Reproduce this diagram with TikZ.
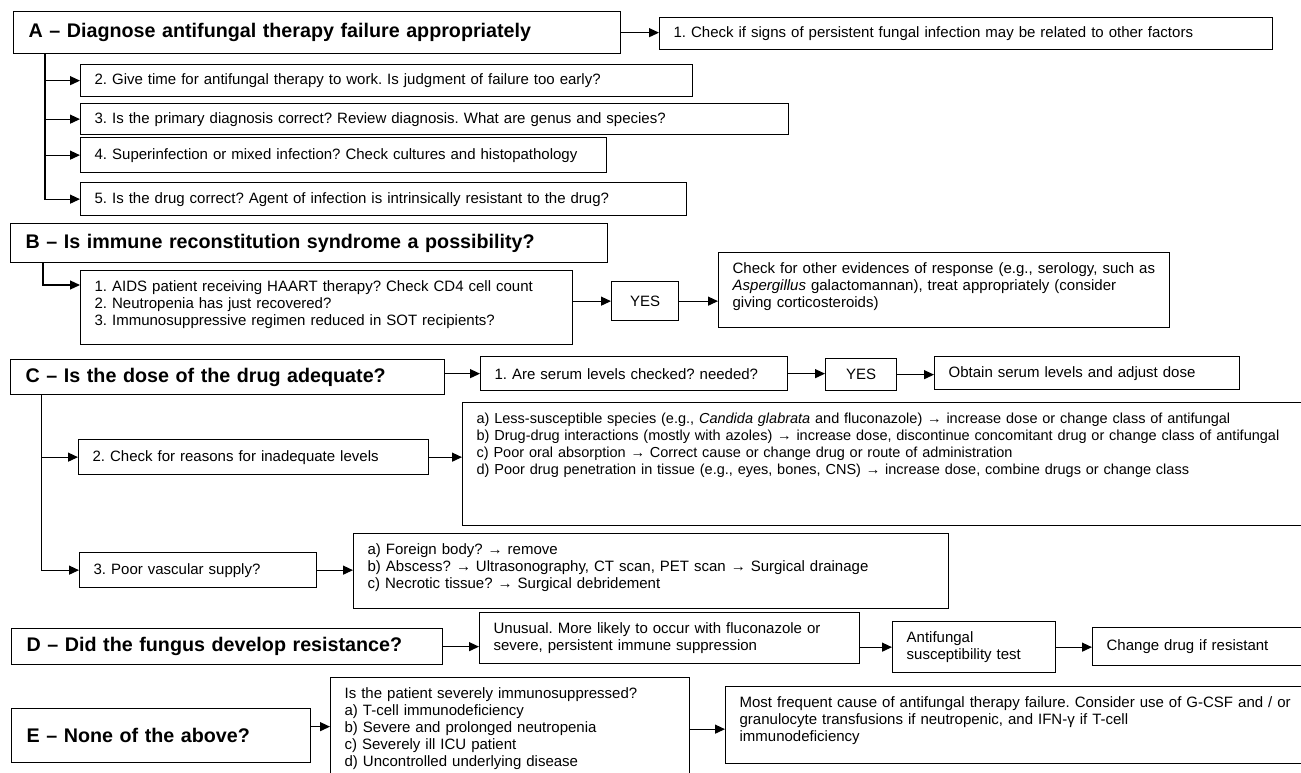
\documentclass[tikz,border=0pt]{standalone}
\usepackage{fontspec}
\setmainfont{Liberation Sans}
\usetikzlibrary{arrows.meta, positioning, calc}
\frenchspacing

\begin{document}
\begin{tikzpicture}[
  x=1pt, y=-1pt,
  font=\fontsize{15}{17}\selectfont,
  box/.style = {draw, line width=1.3pt, anchor=north west, align=left,
                inner xsep=14pt, inner ysep=0pt},
  topbox/.style = {box, inner ysep=9pt, text height=12pt, text depth=#1},
  yesbox/.style = {draw, line width=1.3pt, anchor=north west, align=center,
                   inner sep=0pt},
  headbox/.style = {box, inner xsep=15pt,
                    font=\fontsize{19.7}{24}\selectfont\bfseries},
  arrow/.style = {-{Triangle[length=10pt, width=9pt]}, line width=1.2pt}
]
\useasboundingbox (0,0) rectangle (1301,773);

% A: diagnose failure
\node[headbox, text width=577pt, minimum height=42pt] (diag) at (13,11) {A – Diagnose antifungal therapy failure appropriately};
\node[box, text width=585pt, minimum height=32pt] (other) at (659,17) {1. Check if signs of persistent fungal infection may be related to other factors};
\node[box, text width=584pt, minimum height=32pt] (time) at (80,64) {2. Give time for antifungal therapy to work. Is judgment of failure too early?};
\node[box, text width=680pt, minimum height=31pt] (primary) at (80,103) {3. Is the primary diagnosis correct? Review diagnosis. What are genus and species?};
\node[box, text width=498pt, minimum height=35pt] (superinf) at (80,137) {4. Superinfection or mixed infection? Check cultures and histopathology};
\node[box, text width=578pt, minimum height=33pt] (drugok) at (80,182) {5. Is the drug correct? Agent of infection is intrinsically resistant to the drug?};

% B: immune reconstitution
\node[headbox, text width=567pt, minimum height=39pt] (immune) at (10,223) {B – Is immune reconstitution syndrome a possibility?};
\node[topbox=44pt, text width=464pt] (causes) at (80,270) {1. AIDS patient receiving HAART therapy? Check CD4 cell count\\2. Neutropenia has just recovered?\\3. Immunosuppressive regimen reduced in SOT recipients?};
\node[yesbox, minimum width=67pt, minimum height=39pt] (yesb) at (611,281) {YES};
\node[topbox=45pt, text width=423pt] (response) at (718,252) {Check for other evidences of response (e.g., serology, such as\\\textit{Aspergillus} galactomannan), treat appropriately (consider\\giving corticosteroids)};

% C: dose
\node[headbox, text width=404pt, minimum height=35pt] (dose) at (10,359) {C – Is the dose of the drug adequate?};
\node[box, text width=279pt, minimum height=34pt] (serum) at (480,356) {1. Are serum levels checked? needed?};
\node[yesbox, minimum width=71pt, minimum height=32pt] (yesc) at (825,358) {YES};
\node[box, text width=277pt, minimum height=33pt] (obtain) at (934,356) {Obtain serum levels and adjust dose};
\node[box, text width=322pt, minimum height=35pt] (reasons) at (78,439) {2. Check for reasons for inadequate levels};
\node[topbox=93pt, text width=840pt, font=\fontsize{14.5}{17}\selectfont] (levels) at (462,402) {a) Less-susceptible species (e.g., \textit{Candida glabrata} and fluconazole) → increase dose or change class of antifungal\\b) Drug-drug interactions (mostly with azoles) → increase dose, discontinue concomitant drug or change class of antifungal\\c) Poor oral absorption → Correct cause or change drug or route of administration\\d) Poor drug penetration in tissue (e.g., eyes, bones, CNS) → increase dose, combine drugs or change class};
\node[box, text width=209pt, minimum height=35pt] (vascular) at (79,552) {3. Poor vascular supply?};
\node[topbox=45pt, text width=567pt] (supply) at (353,533) {a) Foreign body? → remove\\b) Abscess? → Ultrasonography, CT scan, PET scan → Surgical drainage\\c) Necrotic tissue? → Surgical debridement};

% D: resistance
\node[headbox, text width=401pt, minimum height=36pt] (resist) at (11,628) {D – Did the fungus develop resistance?};
\node[box, text width=352pt, minimum height=51pt] (unusual) at (479,612) {Unusual. More likely to occur with fluconazole or\\severe, persistent immune suppression};
\node[box, text width=135pt, minimum height=51pt] (suscept) at (892,621) {Antifungal\\susceptibility test};
\node[box, text width=185pt, minimum height=38pt] (change) at (1092,627) {Change drug if resistant};

% E: none of the above
\node[headbox, text width=269pt, minimum height=54pt] (none) at (11,708) {E – None of the above?};
\node[topbox=80pt, text width=331pt] (severe) at (330,677) {Is the patient severely immunosuppressed?\\a) T-cell immunodeficiency\\b) Severe and prolonged neutropenia\\c) Severely ill ICU patient\\d) Uncontrolled underlying disease};
\node[topbox=47pt, text width=570pt] (frequent) at (725,686) {Most frequent cause of antifungal therapy failure. Consider use of G-CSF and / or\\granulocyte transfusions if neutropenic, and IFN-γ if T-cell\\immunodeficiency};

% Arrows A
\draw[arrow] (diag.east) -- (diag.east -| other.west);
\draw[arrow] ([xshift=32pt]diag.south west) |- (time.west);
\draw[arrow] ([xshift=32pt]diag.south west) |- (primary.west);
\draw[arrow] ([xshift=32pt]diag.south west) |- (superinf.west);
\draw[arrow] ([xshift=32pt]diag.south west) |- (drugok.west);

% Arrows B
\draw[arrow] ([xshift=33pt]immune.south west) |- ([yshift=-15pt]causes.north west);
\draw[arrow] (yesb.west -| causes.east) -- (yesb.west);
\draw[arrow] (yesb.east) -- (yesb.east -| response.west);

% Arrows C
\draw[arrow] (serum.west -| dose.east) -- (serum.west);
\draw[arrow] (serum.east) -- (serum.east -| yesc.west);
\draw[arrow] (yesc.east) -- (yesc.east -| obtain.west);
\draw[arrow] ([xshift=31.5pt]dose.south west) |- (reasons.west);
\draw[arrow] ([xshift=31.5pt]dose.south west) |- (vascular.west);
\draw[arrow] (reasons.east) -- (reasons.east -| levels.west);
\draw[arrow] (vascular.east) -- (vascular.east -| supply.west);

% Arrows D
\draw[arrow] (resist.east) -- (resist.east -| unusual.west);
\draw[arrow] (suscept.west -| unusual.east) -- (suscept.west);
\draw[arrow] (suscept.east) -- (suscept.east -| change.west);

% Arrows E
\draw[arrow] ([yshift=9pt]none.east) -- ([yshift=9pt]none.east -| severe.west);
\draw[arrow] ([yshift=-4pt]frequent.west -| severe.east) -- ([yshift=-4pt]frequent.west);

\end{tikzpicture}
\end{document}
